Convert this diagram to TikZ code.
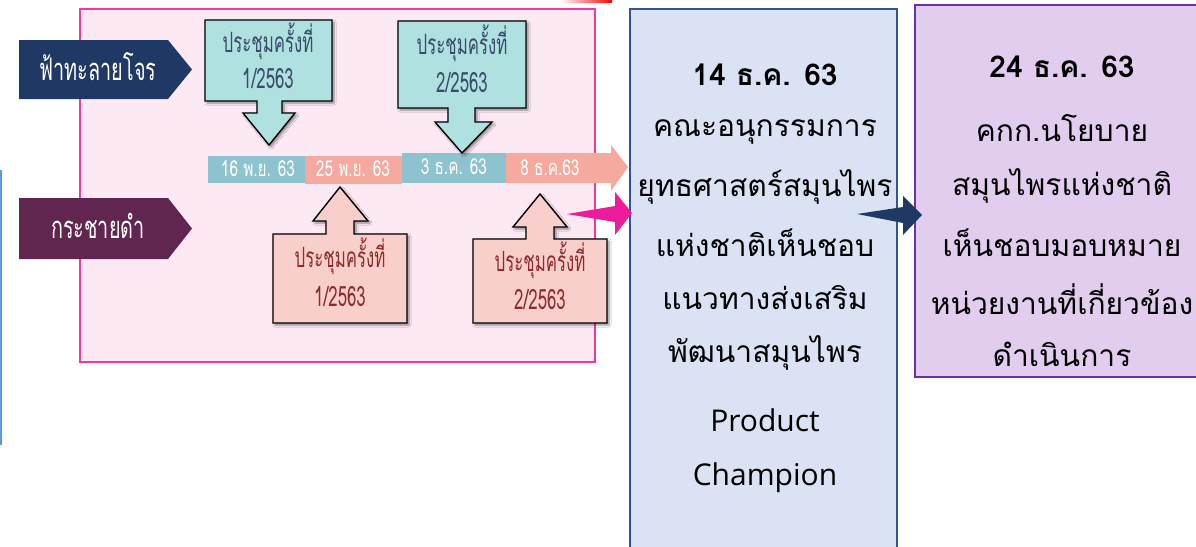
\documentclass[tikz,border=0pt]{standalone}
\usepackage{fontspec}
\setmainfont[Script=Thai]{Loma}
\newfontfamily\latinsans{Open Sans}
\usetikzlibrary{shadows,shadows.blur}
\definecolor{pinkbg}{HTML}{FDE9F4}
\definecolor{pinkbd}{HTML}{F0399B}
\definecolor{tealbox}{HTML}{AEE1E0}
\definecolor{tealtxt}{HTML}{3A4A6B}
\definecolor{tealbar}{HTML}{8CC3CF}
\definecolor{salmon}{HTML}{F6A99F}
\definecolor{pinkbox}{HTML}{F9CFCB}
\definecolor{pinktxt}{HTML}{8E2C2C}
\definecolor{navy}{HTML}{1F3864}
\definecolor{plum}{HTML}{612650}
\definecolor{bluebox}{HTML}{DAE3F3}
\definecolor{bluebd}{HTML}{2F5597}
\definecolor{lilac}{HTML}{E2CDEF}
\definecolor{lilacbd}{HTML}{7030A0}
\definecolor{magenta}{HTML}{EC1C9B}
\definecolor{sideblue}{HTML}{5B9BD5}
\tikzset{
  callout/.style={draw=black, line width=1.4pt, line join=miter,
    blur shadow={shadow xshift=2pt, shadow yshift=-2pt, shadow blur steps=6, shadow opacity=45}},
  ctxt/.style={font=\fontsize{28}{30}\selectfont, inner sep=0pt, anchor=center, transform shape, xscale=0.6},
  bartxt/.style={font=\fontsize{22}{24}\selectfont, text=white, inner sep=0pt, anchor=center, transform shape, xscale=0.7},
  tagtxt/.style={font=\fontsize{31}{33}\selectfont, text=white, inner sep=0pt, anchor=center, transform shape, xscale=0.64},
  bigtxt/.style={font=\fontsize{30}{34}\selectfont, text=black, inner sep=0pt, anchor=center},
  boldtxt/.style={font=\bfseries\fontsize{30}{34}\selectfont, text=black, inner sep=0pt, anchor=center},
  lattxt/.style={font=\latinsans\fontsize{30}{34}\selectfont, text=black, inner sep=0pt, anchor=center},
}
\begin{document}
\begin{tikzpicture}[x=1pt,y=-1pt]
\clip (0,0) rectangle (1196,546);
\useasboundingbox (0,0) rectangle (1196,546);
\fill[white] (0,0) rectangle (1196,546);

% partial elements at edges
\fill[left color=white, right color=red] (560,0) rectangle (612,2.5);
\fill[sideblue] (0,170) rectangle (2.2,445);

% pink panel
\draw[pinkbd, fill=pinkbg, line width=2pt] (80,9) rectangle (595,362);

% tags
\fill[navy] (19,40) -- (168,40) -- (192,69.5) -- (168,99) -- (19,99) -- cycle;
\node[tagtxt] (tag1) at (98,67) {ฟ้าทะลายโจร};
\fill[plum] (19,198) -- (168,198) -- (192,228.5) -- (168,259) -- (19,259) -- cycle;
\node[tagtxt] (tag2) at (98,226) {กระชายดำ};

% timeline
\fill[tealbar] (208,156) rectangle (305,183);
\fill[salmon] (305,156) rectangle (402,184);
\fill[tealbar] (402,153) rectangle (506,183);
\fill[salmon] (506,153) -- (611,153) -- (611,145) -- (628,167) -- (611,191) -- (611,183) -- (506,183) -- cycle;
\node[bartxt] (d1) at (258,169) {16 พ.ย. 63};
\node[bartxt] (d2) at (353,169) {25 พ.ย. 63};
\node[bartxt] (d3) at (454,166.5) {3 ธ.ค. 63};
\node[bartxt] (d4) at (550,168) {8 ธ.ค.63};

% teal callouts (down arrows)
\filldraw[callout, fill=tealbox] (205,20) -- (332,20) -- (332,101) -- (282,101) -- (282,113) -- (295,113) -- (269,145) -- (243,113) -- (257,113) -- (257,101) -- (205,101) -- cycle;
\node[ctxt, text=tealtxt] (t1a) at (268,41) {ประชุมครั้งที่};
\node[ctxt, text=tealtxt] (t1b) at (268,79) {1/2563};
\filldraw[callout, fill=tealbox] (398,21) -- (526,21) -- (526,108) -- (475,108) -- (475,122) -- (492,122) -- (462,153) -- (435,122) -- (448,122) -- (448,108) -- (398,108) -- cycle;
\node[ctxt, text=tealtxt] (t2a) at (462,43) {ประชุมครั้งที่};
\node[ctxt, text=tealtxt] (t2b) at (462,83) {2/2563};

% pink callouts (up arrows)
\filldraw[callout, fill=pinkbox] (273,234) -- (326,234) -- (326,221) -- (313,221) -- (340,187) -- (368,221) -- (354,221) -- (354,234) -- (407,234) -- (407,323) -- (273,323) -- cycle;
\node[ctxt, text=pinktxt] (p1a) at (340,256) {ประชุมครั้งที่};
\node[ctxt, text=pinktxt] (p1b) at (340,297) {1/2563};
\filldraw[callout, fill=pinkbox] (473,239) -- (526,239) -- (526,227) -- (513,227) -- (540,194) -- (567,227) -- (554,227) -- (554,239) -- (607,239) -- (607,323) -- (473,323) -- cycle;
\node[ctxt, text=pinktxt] (p2a) at (540,260) {ประชุมครั้งที่};
\node[ctxt, text=pinktxt] (p2b) at (540,300) {2/2563};

% blue box
\draw[bluebd, fill=bluebox, line width=2pt] (630,9) rectangle (897,560);
\node[boldtxt] (s0) at (765,75) {14 ธ.ค. 63};
\node[bigtxt] (s1) at (765,132) {คณะอนุกรรมการ};
\node[bigtxt] (s2) at (765,187) {ยุทธศาสตร์สมุนไพร};
\node[bigtxt] (s3) at (765,243) {แห่งชาติเห็นชอบ};
\node[bigtxt] (s4) at (765,298) {แนวทางส่งเสริม};
\node[bigtxt] (s5) at (765,353) {พัฒนาสมุนไพร};
\node[lattxt] (s6) at (765,420) {Product};
\node[lattxt] (s7) at (765,478) {Champion};

% purple box
\draw[lilacbd, fill=lilac, line width=2pt] (915,5) rectangle (1210,377);
\node[boldtxt] (c0) at (1062,67) {24 ธ.ค. 63};
\node[bigtxt] (c1) at (1062,128) {คกก.นโยบาย};
\node[bigtxt] (c2) at (1062,186) {สมุนไพรแห่งชาติ};
\node[bigtxt] (c3) at (1062,243) {เห็นชอบมอบหมาย};
\node[bigtxt] (c4) at (1062,299) {หน่วยงานที่เกี่ยวข้อง};
\node[bigtxt] (c5) at (1062,354) {ดำเนินการ};

% connectors
\coordinate (mtail) at (567,214);
\coordinate (mtip) at (632,213);
\fill[magenta] (mtail) -- (615,206) -- (615,192) -- (mtip) -- (615,235) -- (615,222) -- cycle;
\coordinate (ntail) at (857,214);
\coordinate (ntip) at (922,215);
\fill[navy] (ntail) -- (903,207) -- (903,196) -- (ntip) -- (903,235) -- (903,223) -- cycle;
\end{tikzpicture}
\end{document}
